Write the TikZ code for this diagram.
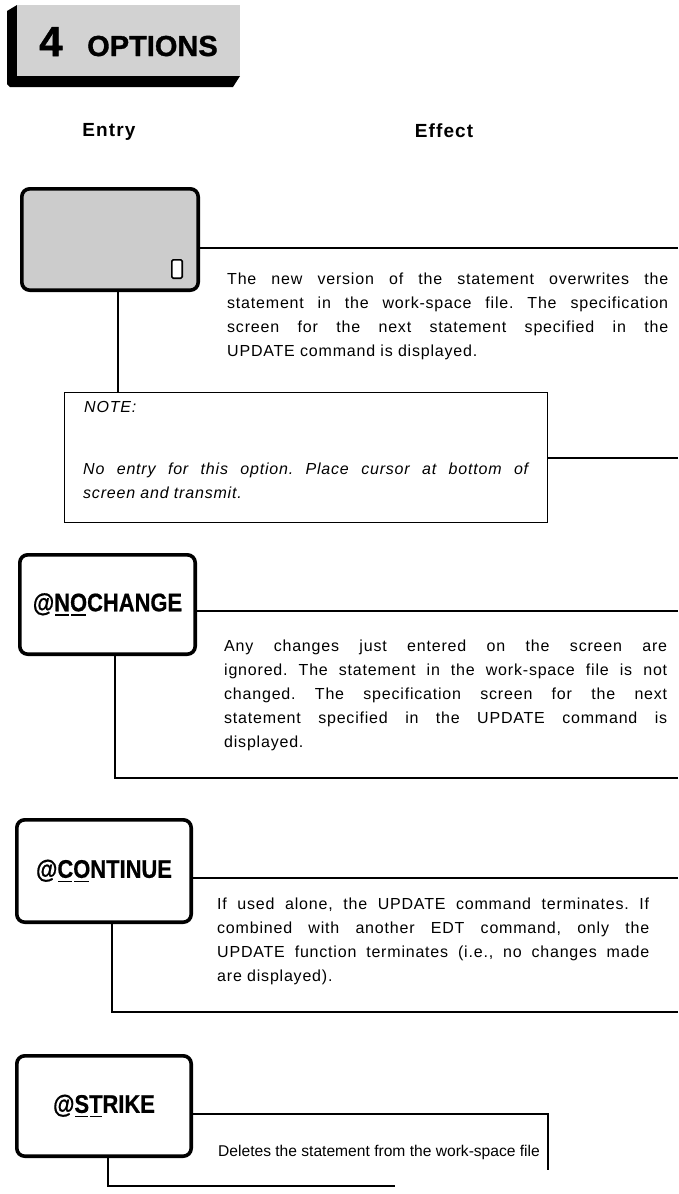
\documentclass[tikz,border=0pt]{standalone}
\usepackage{fontspec}
\usepackage{graphicx}
\newfontfamily\headfont{Liberation Sans}[FakeBold=0.6]
\newfontfamily\bigfont{Liberation Sans}[FakeBold=1.2]
\newfontfamily\labfont{Liberation Sans}[LetterSpace=6]
\newfontfamily\bodyfont{Liberation Sans}[LetterSpace=5]
\newfontfamily\plainfont{Liberation Sans}
\setlength\parindent{0pt}
\frenchspacing
\newcommand\ulet[1]{\setbox0\hbox{#1}\rlap{\hspace{1pt}\rule[-4.5pt]{\dimexpr\wd0-2pt\relax}{1.8pt}}\box0}
\begin{document}
\frenchspacing
\begin{tikzpicture}[x=1pt,y=-1pt,
  screen/.style={draw, line width=3.6pt, rounded corners=8pt, inner sep=0pt},
  conn/.style={line width=1.4pt},
  para/.style={anchor=north west, inner sep=0pt, text width=#1, align=justify,
    font=\bodyfont\fontsize{16}{24}\selectfont\frenchspacing},
  notepara/.style={anchor=north west, inner sep=0pt, text width=#1, align=justify,
    font=\bodyfont\itshape\fontsize{16}{24}\selectfont\frenchspacing},
  lab/.style={font=\headfont\bfseries\fontsize{25.5}{25.5}\selectfont, inner sep=0pt},
  colhead/.style={anchor=base, inner sep=0pt, font=\labfont\bfseries\fontsize{19}{19}\selectfont},
]
\useasboundingbox (0,0) rectangle (678,1194);
\fill[white] (0,0) rectangle (678,1194);

% header
\fill[black] (17,5) -- (7,11) -- (7,84) -- (10,87) -- (233,87) -- (240,76) -- (17,76) -- cycle;
\fill[gray!35] (17,5) rectangle (240,76);
\node[anchor=base west, inner sep=0pt, font=\bigfont\bfseries\fontsize{42}{42}\selectfont] (num) at (39,56) {4};
\node[anchor=base west, inner sep=0pt, font=\bigfont\bfseries\fontsize{29}{29}\selectfont] (ttl) at (87,56) {OPTIONS};

\node[colhead] (entry) at (109,136) {Entry};
\node[colhead] (effect) at (444,137) {Effect};

% option 1 (blank screen)
\node[screen, fill=gray!40, minimum width=176.4pt, minimum height=101.4pt] (b1) at (110,239.5) {};
\node[draw, line width=1.6pt, fill=white, rounded corners=1.5pt, minimum width=10.4pt, minimum height=18.4pt, inner sep=0pt] (cur) at (177,269) {};
\coordinate (e1) at (678,248);
\draw[conn] (b1.east |- e1) -- (e1);
\node[para=441pt] (p1) at (227,273) {The new version of the statement overwrites the\linebreak statement in the work-space file. The specification\linebreak screen for the next statement specified in the\linebreak UPDATE command is displayed.};

\node[draw, line width=1.3pt, minimum width=482.7pt, minimum height=129.7pt, inner sep=0pt] (note) at (306,457.5) {};
\coordinate (v1) at (118,0);
\draw[conn] (b1.south -| v1) -- (note.north -| v1);
\coordinate (e2) at (678,458);
\draw[conn] (note.east |- e2) -- (e2);
\node[anchor=base west, inner sep=0pt, font=\bodyfont\itshape\fontsize{16}{24}\selectfont] (nt) at (84,412) {NOTE:};
\node[notepara=445pt] (nb) at (83,463) {No entry for this option. Place cursor at bottom of\linebreak screen and transmit.};

% @NOCHANGE
\node[screen, minimum width=175.4pt, minimum height=99.4pt] (b2) at (107.5,604.5) {};
\node[lab] (l2) at (b2.center) {\scalebox{0.86}[1]{@\ulet{N}\ulet{O}CHANGE}};
\coordinate (e3) at (678,611);
\draw[conn] (b2.east |- e3) -- (e3);
\node[para=443pt] (p2) at (224,640) {Any changes just entered on the screen are\linebreak ignored. The statement in the work-space file is not\linebreak changed. The specification screen for the next\linebreak statement specified in the UPDATE command is\linebreak displayed.};
\coordinate (v2) at (115,778);
\coordinate (e4) at (678,778);
\draw[conn] (b2.south -| v2) -- (v2) -- (e4);

% @CONTINUE
\node[screen, minimum width=174.4pt, minimum height=102.4pt] (b3) at (104,871) {};
\node[lab] (l3) at (b3.center) {\scalebox{0.86}[1]{@\ulet{C}\ulet{O}NTINUE}};
\coordinate (e5) at (678,878);
\draw[conn] (b3.east |- e5) -- (e5);
\node[para=432pt] (p3) at (217,898) {If used alone, the UPDATE command terminates. If\linebreak combined with another EDT command, only the\linebreak UPDATE function terminates (i.e., no changes made\linebreak are displayed).};
\coordinate (v3) at (112,1012);
\coordinate (e6) at (678,1012);
\draw[conn] (b3.south -| v3) -- (v3) -- (e6);

% @STRIKE
\node[screen, minimum width=174.4pt, minimum height=100.4pt] (b4) at (104,1106) {};
\node[lab] (l4) at (b4.center) {\scalebox{0.86}[1]{@\ulet{S}\ulet{T}RIKE}};
\coordinate (e7) at (548,1114);
\coordinate (e8) at (548,1170);
\draw[conn] (b4.east |- e7) -- (e7) -- (e8);
\node[anchor=base west, inner sep=0pt, font=\plainfont\fontsize{15.6}{24}\selectfont] (p4) at (218,1156) {Deletes the statement from the work-space file};
\coordinate (v4) at (108,1186);
\coordinate (e9) at (395,1186);
\draw[conn] (b4.south -| v4) -- (v4) -- (e9);
\end{tikzpicture}
\end{document}
